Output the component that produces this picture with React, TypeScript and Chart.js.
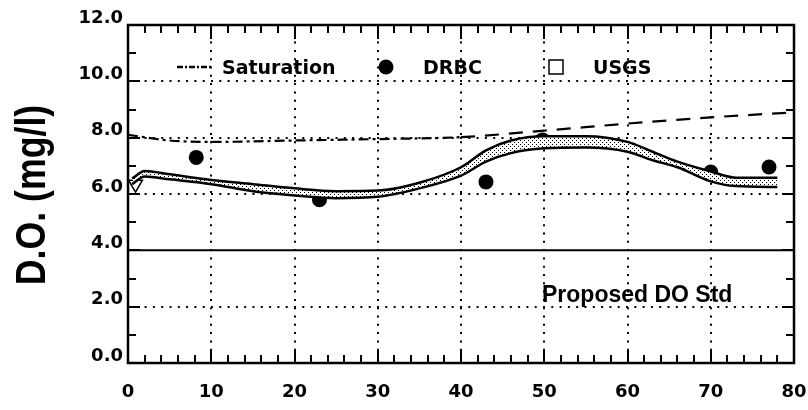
import React, { useEffect, useRef } from "react";
import { Chart, registerables } from "chart.js";

Chart.register(...registerables);

// ---- data ----
const satX = [0, 5, 10, 20, 30, 40, 50, 60, 70, 80];
const satY = [8.1, 7.9, 7.85, 7.9, 7.95, 8.02, 8.25, 8.5, 8.72, 8.9];

const bandX = [0.5, 2, 5, 10, 15, 20, 25, 30, 35, 40, 43, 46, 50, 55, 60, 63, 66, 70, 73, 78];
const bandUpper = [6.55, 6.82, 6.7, 6.5, 6.35, 6.2, 6.1, 6.12, 6.4, 6.95, 7.55, 7.9, 8.05, 8.05, 7.85, 7.5, 7.15, 6.8, 6.58, 6.58];
const bandLower = [6.35, 6.62, 6.52, 6.35, 6.1, 5.95, 5.85, 5.9, 6.2, 6.65, 7.15, 7.45, 7.62, 7.65, 7.5, 7.2, 6.95, 6.45, 6.28, 6.25];

const drbcX = [8.2, 23.0, 43.0, 49.8, 70.0, 77.0];
const drbcY = [7.3, 5.8, 6.43, 7.92, 6.78, 6.96];

const usgsX = [0.9];
const usgsY = [6.35];

const stdX = [0, 80];
const stdY = [4, 4];

const xGridValues = [10, 20, 30, 40, 50, 60, 70];
const yGridValues = [2, 6, 8, 10];

const legendLabels = ["Saturation", "DRBC", "USGS"];
const stdLabel = "Proposed DO Std";
const yTitle = "D.O. (mg/l)";

const FONT = "'DejaVu Sans', sans-serif";

const zip = (xs: number[], ys: number[]) => xs.map((x, i) => ({ x, y: ys[i] }));

function makePattern(): CanvasPattern | string {
  const c = document.createElement("canvas");
  c.width = 4;
  c.height = 4;
  const g = c.getContext("2d");
  if (!g) return "#ccc";
  g.fillStyle = "#ffffff";
  g.fillRect(0, 0, 4, 4);
  g.fillStyle = "#000000";
  g.fillRect(0, 0, 1, 1);
  g.fillRect(2, 2, 1, 1);
  const p = g.createPattern(c, "repeat");
  return p || "#ccc";
}

const decorPlugin = {
  id: "decor",
  beforeDatasetsDraw(chart: any) {
    const { ctx, chartArea, scales } = chart;
    const xs = scales.x;
    const ys = scales.y;
    ctx.save();
    ctx.strokeStyle = "#000";
    ctx.lineWidth = 2;
    ctx.setLineDash([2, 6.3]);
    for (const v of xGridValues) {
      const px = Math.round(xs.getPixelForValue(v));
      ctx.beginPath();
      ctx.moveTo(px, chartArea.top);
      ctx.lineTo(px, chartArea.bottom);
      ctx.stroke();
    }
    for (const v of yGridValues) {
      const py = Math.round(ys.getPixelForValue(v));
      ctx.beginPath();
      ctx.moveTo(chartArea.left, py);
      ctx.lineTo(chartArea.right, py);
      ctx.stroke();
    }
    ctx.restore();
  },
  afterDatasetsDraw(chart: any) {
    const { ctx, chartArea, scales } = chart;
    const xs = scales.x;
    const ys = scales.y;
    const { left, right, top, bottom } = chartArea;
    ctx.save();
    ctx.strokeStyle = "#000";
    ctx.fillStyle = "#000";
    ctx.setLineDash([]);
    // border
    ctx.lineWidth = 2.5;
    ctx.strokeRect(left, top, right - left, bottom - top);
    // x ticks
    ctx.lineWidth = 2;
    for (let v = 0; v <= 80; v += 2) {
      const px = Math.round(xs.getPixelForValue(v));
      const len = v % 10 === 0 ? 14 : 8;
      ctx.beginPath();
      ctx.moveTo(px, bottom);
      ctx.lineTo(px, bottom - len);
      ctx.moveTo(px, top);
      ctx.lineTo(px, top + len);
      ctx.stroke();
    }
    // y ticks
    for (let v = 0; v <= 12; v += 1) {
      const py = Math.round(ys.getPixelForValue(v));
      const len = v % 2 === 0 ? 12 : 8;
      ctx.beginPath();
      ctx.moveTo(left, py);
      ctx.lineTo(left + len, py);
      ctx.moveTo(right, py);
      ctx.lineTo(right - len, py);
      ctx.stroke();
    }
    // legend
    ctx.lineWidth = 2.5;
    ctx.setLineDash([6, 2, 2, 2]);
    ctx.beginPath();
    ctx.moveTo(177, 67);
    ctx.lineTo(212, 67);
    ctx.stroke();
    ctx.setLineDash([]);
    ctx.font = `bold 19px ${FONT}`;
    ctx.textAlign = "left";
    ctx.textBaseline = "alphabetic";
    ctx.fillText(legendLabels[0], 222, 74);
    ctx.beginPath();
    ctx.arc(386, 67, 7.5, 0, Math.PI * 2);
    ctx.fill();
    ctx.fillText(legendLabels[1], 423, 74);
    ctx.lineWidth = 1.5;
    ctx.strokeRect(549, 60, 14, 14);
    ctx.fillText(legendLabels[2], 593, 74);
    // annotation
    ctx.font = "bold 23px 'Liberation Sans', Arial, sans-serif";
    ctx.fillText(stdLabel, 542, 302);
    // y title
    ctx.save();
    ctx.translate(45, 195);
    ctx.rotate(-Math.PI / 2);
    ctx.scale(0.83, 1);
    ctx.font = "bold 43px 'Liberation Sans', Arial, sans-serif";
    ctx.textAlign = "center";
    ctx.fillText(yTitle, 0, 0);
    ctx.restore();
    ctx.restore();
  },
};

export default function App() {
  const ref = useRef<HTMLCanvasElement | null>(null);
  useEffect(() => {
    document.body.style.margin = "0";
    const canvas = ref.current;
    if (!canvas) return;
    const pattern = makePattern();
    const chart = new Chart(canvas, {
      type: "scatter",
      data: {
        datasets: [
          {
            label: "std",
            data: zip(stdX, stdY),
            showLine: true,
            borderColor: "#000",
            borderWidth: 2,
            pointRadius: 0,
          },
          {
            label: "Saturation",
            data: zip(satX, satY),
            showLine: true,
            borderColor: "#000",
            borderWidth: 2.2,
            pointRadius: 0,
            tension: 0.4,
            cubicInterpolationMode: "monotone",
            segment: {
              borderDash: (c: any) => (c.p0.parsed.x < 40 ? [10, 4, 3, 4] : [14, 10]),
            },
          } as any,
          {
            label: "upper",
            data: zip(bandX, bandUpper),
            showLine: true,
            borderColor: "#000",
            borderWidth: 2.5,
            pointRadius: 0,
            cubicInterpolationMode: "monotone",
          } as any,
          {
            label: "lower",
            data: zip(bandX, bandLower),
            showLine: true,
            borderColor: "#000",
            borderWidth: 2.5,
            pointRadius: 0,
            cubicInterpolationMode: "monotone",
            fill: "-1",
            backgroundColor: pattern,
          } as any,
          {
            label: "DRBC",
            data: zip(drbcX, drbcY),
            pointRadius: 7.5,
            pointBackgroundColor: "#000",
            pointBorderColor: "#000",
            pointBorderWidth: 0,
          },
          {
            label: "USGS",
            data: zip(usgsX, usgsY),
            pointStyle: "triangle",
            rotation: 180,
            pointRadius: 8,
            pointBackgroundColor: "rgba(255,255,255,0)",
            pointBorderColor: "#000",
            pointBorderWidth: 1.5,
          } as any,
        ],
      },
      options: {
        animation: false,
        responsive: false,
        layout: { padding: { left: 0, right: 14, top: 25, bottom: 0 } },
        plugins: {
          legend: { display: false },
          tooltip: { enabled: false },
        },
        scales: {
          x: {
            type: "linear",
            min: 0,
            max: 80,
            grid: { display: false, drawTicks: false },
            border: { display: false },
            ticks: {
              stepSize: 10,
              color: "#000",
              padding: 19,
              maxRotation: 0,
              font: { family: FONT, weight: "bold", size: 18 },
            },
            afterFit: (s: any) => {
              s.height = 47;
              s.paddingLeft = 0;
              s.paddingRight = 0;
            },
          },
          y: {
            type: "linear",
            min: 0,
            max: 12,
            grid: { display: false, drawTicks: false },
            border: { display: false },
            ticks: {
              stepSize: 2,
              color: "#000",
              padding: 5,
              labelOffset: -7,
              font: { family: FONT, weight: "bold", size: 18 },
              callback: (v: any) => Number(v).toFixed(1),
            },
            afterFit: (s: any) => {
              s.width = 128;
              s.paddingTop = 0;
              s.paddingBottom = 0;
            },
          },
        },
      } as any,
      plugins: [decorPlugin],
    });
    return () => chart.destroy();
  }, []);
  return (
    <div style={{ width: 808, height: 410, background: "#fff" }}>
      <canvas ref={ref} width={808} height={410} />
    </div>
  );
}
